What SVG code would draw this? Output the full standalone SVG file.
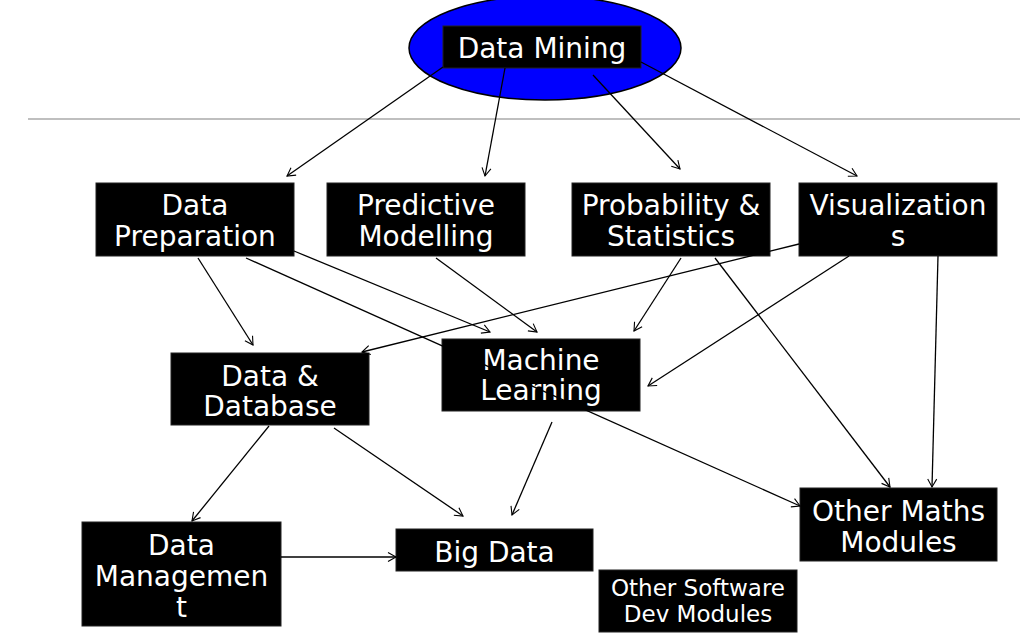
<svg xmlns="http://www.w3.org/2000/svg" width="1020" height="636" viewBox="0 0 1020 636">
<style>
.box{fill:#000;stroke:#222;stroke-width:1}
.t{font-family:"DejaVu Sans",sans-serif;font-size:28px;fill:#fff;text-anchor:middle}
.s{font-size:23px}
.c line{stroke:#000;stroke-width:1.3;marker-end:url(#ah)}
</style>
<defs>
<marker id="ah" markerUnits="userSpaceOnUse" markerWidth="12" markerHeight="12" viewBox="-10 -6 12 12" refX="0" refY="0" orient="auto">
<path d="M-8,-4.5 L0,0 L-8,4.5" fill="none" stroke="#000" stroke-width="1.1"/>
</marker>
</defs>
<rect width="1020" height="636" fill="#fff"/>
<line x1="28" y1="119" x2="1020" y2="119" stroke="#aaa" stroke-width="1.5"/>
<g id="n-data-mining">
<ellipse cx="545" cy="48" rx="136" ry="52" fill="#0000ff" stroke="#000" stroke-width="1.5"/>
<rect class="box" x="443" y="26" width="198" height="42"/>
<text class="t" x="542" y="58">Data Mining</text>
</g>
<g id="n-data-preparation">
<rect class="box" x="96" y="183" width="198" height="73"/>
<text class="t" x="195" y="215">Data</text>
<text class="t" x="195" y="246">Preparation</text>
</g>
<g id="n-predictive-modelling">
<rect class="box" x="327" y="183" width="198" height="73"/>
<text class="t" x="426" y="215">Predictive</text>
<text class="t" x="426" y="246">Modelling</text>
</g>
<g id="n-probability-statistics">
<rect class="box" x="572" y="183" width="198" height="73"/>
<text class="t" x="671" y="215">Probability &amp;</text>
<text class="t" x="671" y="246">Statistics</text>
</g>
<g id="n-visualizations">
<rect class="box" x="799" y="183" width="198" height="73"/>
<text class="t" x="898" y="215">Visualization</text>
<text class="t" x="898" y="246">s</text>
</g>
<g id="n-data-database">
<rect class="box" x="171" y="353" width="198" height="72"/>
<text class="t" x="270" y="386">Data &amp;</text>
<text class="t" x="270" y="416">Database</text>
</g>
<g id="n-machine-learning">
<rect class="box" x="442" y="339" width="198" height="72"/>
<text class="t" x="541" y="370">Machine</text>
<text class="t" x="541" y="400">Learning</text>
</g>
<g id="n-data-management">
<rect class="box" x="82" y="522" width="199" height="104"/>
<text class="t" x="181.5" y="555">Data</text>
<text class="t" x="181.5" y="586">Managemen</text>
<text class="t" x="181.5" y="617">t</text>
</g>
<g id="n-big-data">
<rect class="box" x="396" y="529" width="197" height="42"/>
<text class="t" x="494.5" y="562">Big Data</text>
</g>
<g id="n-other-maths">
<rect class="box" x="800" y="488" width="197" height="73"/>
<text class="t" x="898.5" y="521">Other Maths</text>
<text class="t" x="898.5" y="552">Modules</text>
</g>
<g id="n-other-software">
<rect class="box" x="599" y="570" width="198" height="62"/>
<text class="t s" x="698" y="596">Other Software</text>
<text class="t s" x="698" y="622">Dev Modules</text>
</g>
<g id="connectors" class="c">
<line x1="443" y1="67" x2="287" y2="176"/>
<line x1="505" y1="68" x2="485" y2="176"/>
<line x1="593" y1="75" x2="680" y2="169"/>
<line x1="641" y1="62" x2="857" y2="176"/>
<line x1="198" y1="258" x2="253" y2="345"/>
<line x1="294" y1="251" x2="490" y2="332"/>
<line x1="246" y1="258" x2="800" y2="506"/>
<line x1="436" y1="258" x2="537" y2="332"/>
<line x1="681" y1="258" x2="634" y2="331"/>
<line x1="799" y1="244" x2="362" y2="352"/>
<line x1="849" y1="256" x2="648" y2="386"/>
<line x1="715" y1="258" x2="890" y2="487"/>
<line x1="938" y1="256" x2="932" y2="487"/>
<line x1="269" y1="426" x2="192" y2="521"/>
<line x1="334" y1="428" x2="463" y2="516"/>
<line x1="552" y1="422" x2="512" y2="515"/>
<line x1="281" y1="557" x2="396" y2="557"/>
</g>
</svg>
